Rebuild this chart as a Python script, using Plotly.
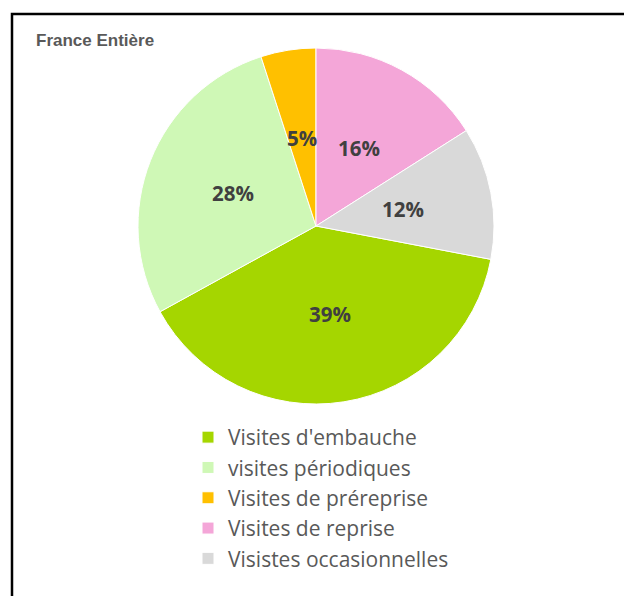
import math
import plotly.graph_objects as go

categories = ["Visites d'embauche", "visites périodiques", "Visites de préreprise",
              "Visites de reprise", "Visistes occasionnelles"]
values = [39, 28, 5, 16, 12]
colors = ["#A5D600", "#CFF8B6", "#FFC000", "#F4A6D8", "#D9D9D9"]
title_text = "France Entière"

W, H = 624, 596
cx, cy, R = 316, 226, 178

total = sum(values)
# first slice starts after reprise+occasionnelles (clockwise from 12 o'clock)
rotation = (values[3] + values[4]) / total * 360

fig = go.Figure(go.Pie(
    labels=categories,
    values=values,
    sort=False,
    direction="clockwise",
    rotation=rotation,
    marker=dict(colors=colors, line=dict(color="white", width=1)),
    textinfo="none",
    domain=dict(x=[(cx - R) / W, (cx + R) / W],
                y=[(H - cy - R) / H, (H - cy + R) / H]),
    hoverinfo="label+percent",
))

# percentage labels at half radius along each slice bisector (Excel style)
annotations = []
start = rotation
for v in values:
    span = v / total * 360
    mid = math.radians(start + span / 2)
    px = cx + 0.5 * R * math.sin(mid)
    py = cy - 0.5 * R * math.cos(mid)
    annotations.append(dict(
        text=f"{round(v / total * 100)}%", x=px / W, y=1 - py / H,
        xref="paper", yref="paper", xanchor="center", yanchor="middle",
        showarrow=False,
        font=dict(family="Open Sans", size=20.5, color="#404040", weight="bold"),
    ))
    start += span

annotations.append(dict(
    text=title_text, x=34 / W, y=1 - 40 / H, xref="paper", yref="paper",
    xanchor="left", yanchor="middle", showarrow=False,
    font=dict(family="Liberation Sans", size=17, color="#595959", weight="bold"),
))

fig.update_layout(
    width=W, height=H,
    margin=dict(l=0, r=0, t=0, b=0),
    paper_bgcolor="white",
    plot_bgcolor="white",
    showlegend=True,
    legend=dict(
        x=188 / W, xanchor="left",
        y=1 - 417 / H, yanchor="top",
        font=dict(family="Open Sans", size=21, color="#595959"),
        bgcolor="rgba(0,0,0,0)",
    ),
    annotations=annotations,
    shapes=[dict(
        type="rect", xref="paper", yref="paper",
        x0=12 / W, x1=1.05, y0=-0.05, y1=1 - 14 / H,
        line=dict(color="black", width=2.5),
        fillcolor="rgba(0,0,0,0)",
    )],
)

fig.write_html("out.html", config={"displayModeBar": False},
               post_script="document.body.style.margin='0';document.body.style.overflow='hidden';")
